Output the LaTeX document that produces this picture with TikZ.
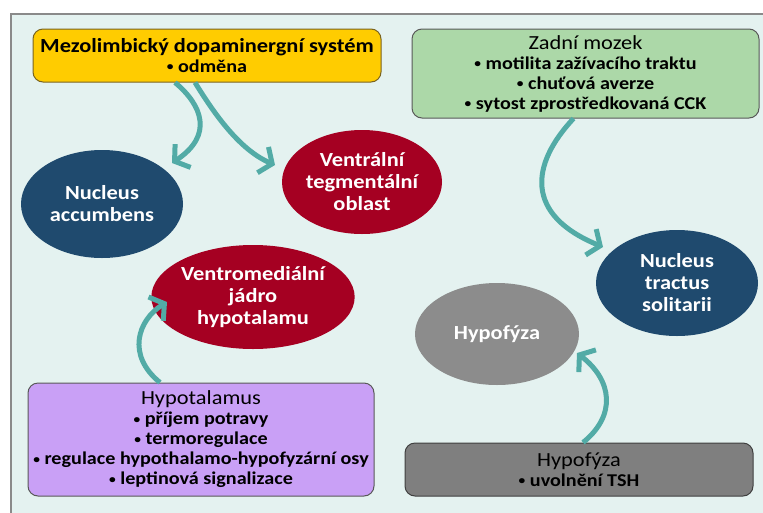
\documentclass[tikz,border=0pt]{standalone}
\usepackage{fontspec}
\setmainfont{Carlito}[FakeStretch=1.12]
\usetikzlibrary{arrows.meta,shapes.geometric}
\definecolor{panelbg}{HTML}{E4F2F0}
\definecolor{panelline}{HTML}{8A8A8A}
\definecolor{yel}{HTML}{FFCC00}
\definecolor{yelline}{HTML}{7A6420}
\definecolor{grn}{HTML}{ACD8A8}
\definecolor{pur}{HTML}{C9A0F6}
\definecolor{gbox}{HTML}{7F7F7F}
\definecolor{gell}{HTML}{8C8C8C}
\definecolor{blu}{HTML}{1F4A6E}
\definecolor{redd}{HTML}{A50022}
\definecolor{teal}{HTML}{52ABA6}
\newcommand\bul{\raisebox{1.6pt}{\fontsize{12}{12}\selectfont •}}
\begin{document}
\begin{tikzpicture}[x=1pt,y=-1pt,
  infobox/.style={draw=#1, line width=1pt, rounded corners=10pt, inner sep=0pt,
     align=center, font=\fontsize{18}{20}\selectfont\bfseries, text=black},
  ell/.style={ellipse, fill=#1, draw=none, inner sep=0pt, text=white,
     align=center, font=\fontsize{20}{22}\selectfont\bfseries},
  arr/.style={draw=teal, line width=5pt, -{Straight Barb[length=10pt,width=28pt]}}]
\useasboundingbox (0,0) rectangle (763,512);
\fill[white] (0,0) rectangle (763,512);
\draw[fill=panelbg, draw=panelline, line width=1.2pt] (11,14) rectangle (790,540);
% boxes
\node[infobox=yelline, fill=yel, minimum width=348pt, minimum height=53pt] (mezo) at (207,55.5)
  {{\fontsize{20}{20}\selectfont\bfseries Mezolimbický dopaminergní systém}\\ \bul\ odměna};
\node[infobox=gray!70!black, fill=grn, minimum width=347pt, minimum height=89pt] (zadni) at (585.5,73.5)
  {{\fontsize{20}{20}\selectfont\mdseries Zadní mozek}\\ \bul\ motilita zažívacího traktu\\ \bul\ chuťová averze\\ \bul\ sytost zprostředkovaná CCK};
\node[infobox=gray!70!black, fill=pur, minimum width=346pt, minimum height=113pt] (hypot) at (201,439.5)
  {{\fontsize{20}{20}\selectfont\mdseries Hypotalamus}\\ \bul\ příjem potravy\\ \bul\ termoregulace\\ \bul\ regulace hypothalamo-hypofyzární osy\\ \bul\ leptinová signalizace};
\node[infobox=gray!50!black, fill=gbox, minimum width=348pt, minimum height=53pt] (hypofbox) at (579,469.5)
  {{\fontsize{20}{20}\selectfont\mdseries Hypofýza}\\ \bul\ uvolnění TSH};
% ellipses
\node[ell=blu, minimum width=162pt, minimum height=108pt] (nac) at (102,204) {Nucleus\\accumbens};
\node[ell=redd, minimum width=160pt, minimum height=104pt] (vta) at (362,182) {Ventrální\\tegmentální\\oblast};
\node[ell=redd, minimum width=162pt, minimum height=104pt] (vmh) at (253,297) {Ventromediální\\jádro\\hypotalamu};
\node[ell=blu, minimum width=162pt, minimum height=106pt] (nts) at (677,283) {Nucleus\\tractus\\solitarii};
\node[ell=gell, minimum width=164pt, minimum height=102pt] (hypofell) at (497,334) {Hypofýza};
% arrow tips
\coordinate (t1) at (172,163);
\coordinate (t2) at (275,165);
\coordinate (t3) at (603,247);
\coordinate (t4) at (167,302);
\coordinate (t5) at (577,353);
% arrows
\draw[arr] ([xshift=-32pt]mezo.south) .. controls (202,105) and (214,135) .. (t1);
\draw[arr] ([xshift=-12pt]mezo.south) .. controls (215,115) and (240,150) .. (t2);
\draw[arr] ([xshift=-12pt]zadni.south) .. controls (530,165) and (525,215) .. (t3);
\draw[arr] ([xshift=-41pt]hypot.north) .. controls (126,355) and (138,320) .. (t4);
\draw[arr] ([xshift=4pt]hypofbox.north) .. controls (617,415) and (612,380) .. (t5);
\end{tikzpicture}
\end{document}
